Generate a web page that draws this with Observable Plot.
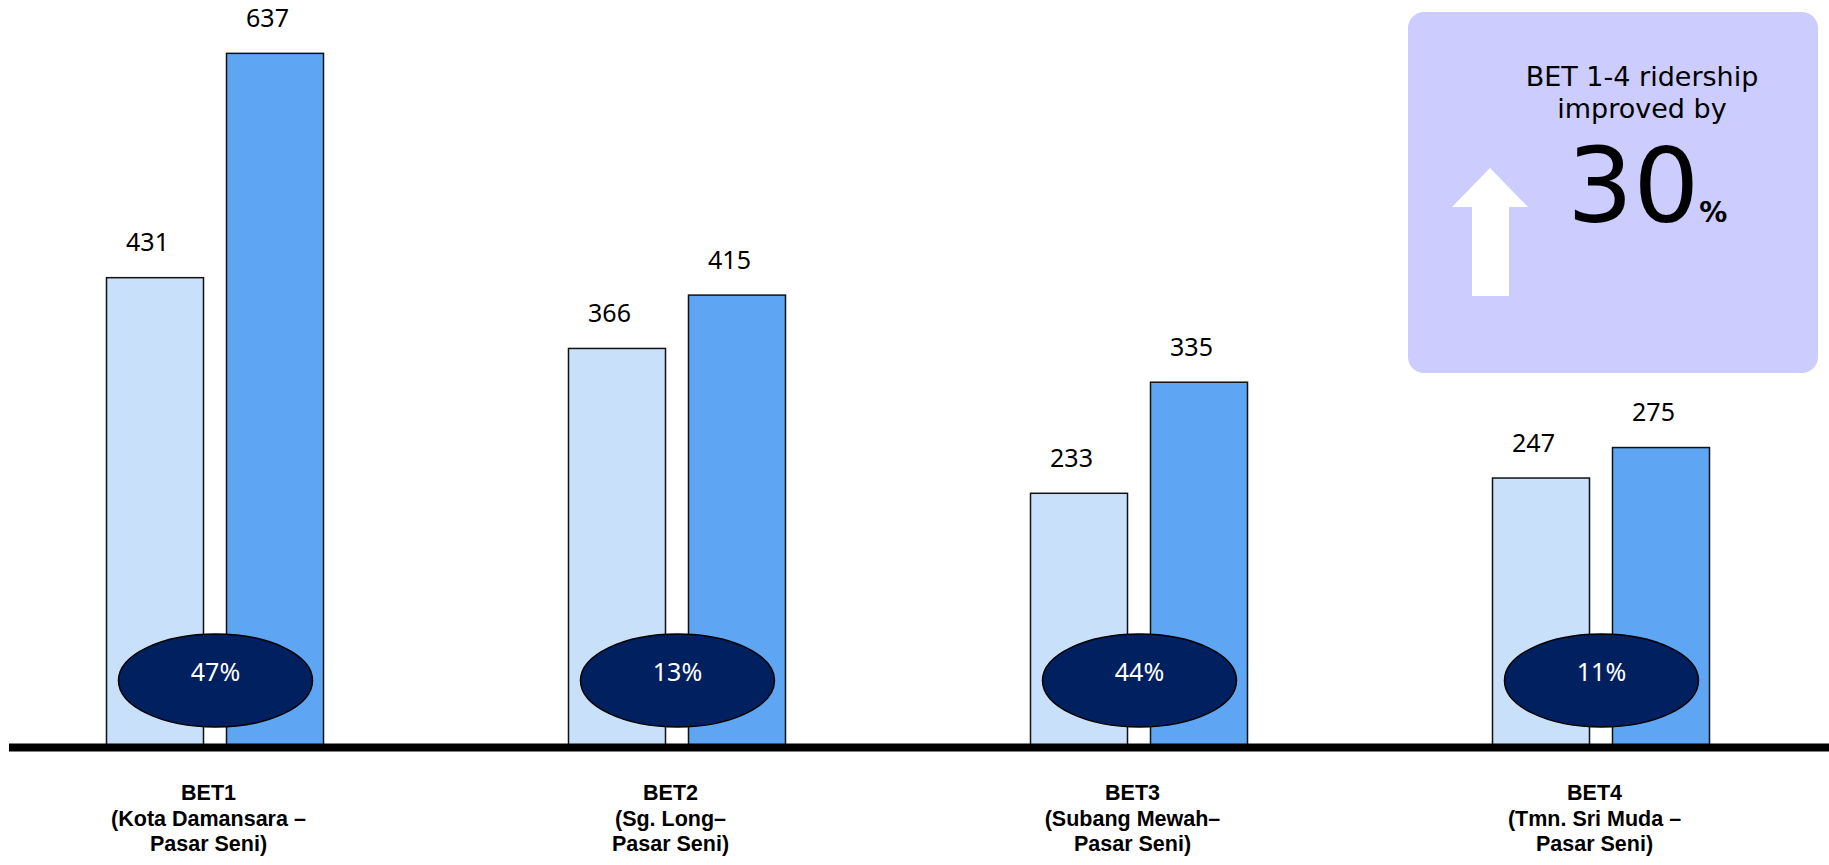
<!DOCTYPE html>
<html>
<head>
<meta charset="utf-8">
<script src="https://cdn.jsdelivr.net/npm/d3@7"></script>
<script src="https://cdn.jsdelivr.net/npm/@observablehq/plot@0.6"></script>
<style>
  html, body { margin: 0; padding: 0; background: #fff; }
  #wrap { position: relative; width: 1829px; height: 865px; overflow: hidden; }
  #chart svg { display: block; }
  #box { position: absolute; left: 1408px; top: 12px; width: 410px; height: 361px;
         background: #CCCCFF; border-radius: 16px; }
  #box .head { position: absolute; left: 84px; top: 49px; width: 300px; text-align: center;
               font-family: "DejaVu Sans", sans-serif; font-size: 27px; line-height: 32px; color: #000; }
  #box .num { position: absolute; left: 159px; top: 122px; white-space: nowrap;
              font-family: "DejaVu Sans", sans-serif; line-height: 104px; color: #000; }
  #box .num .big { font-size: 104px; }
  #box .num .pct { font-size: 28px; font-weight: bold; }
  #box .tri { position: absolute; left: 44px; top: 156px; width: 0; height: 0;
              border-left: 38px solid transparent; border-right: 38px solid transparent;
              border-bottom: 39px solid #fff; }
  #box .shaft { position: absolute; left: 64px; top: 195px; width: 37px; height: 89px; background: #fff; }
</style>
</head>
<body>
<div id="wrap">
  <div id="chart"></div>
  <div id="box">
    <div class="head">BET 1-4 ridership<br>improved by</div>
    <div class="num"><span class="big">30</span><span class="pct">%</span></div>
    <div class="tri"></div>
    <div class="shaft"></div>
  </div>
</div>
<script>
// ---- data ----
const groups = ["BET1", "BET2", "BET3", "BET4"];
const groupLabels = [
  "BET1\n(Kota Damansara –\nPasar Seni)",
  "BET2\n(Sg. Long–\nPasar Seni)",
  "BET3\n(Subang Mewah–\nPasar Seni)",
  "BET4\n(Tmn. Sri Muda –\nPasar Seni)"
];
const before = [431, 366, 233, 247];
const after = [637, 415, 335, 275];
const growth = ["47%", "13%", "44%", "11%"];

const rows = groups.map((g, i) => ({
  group: g, label: groupLabels[i], before: before[i], after: after[i], growth: growth[i]
}));

// ellipse symbol (wide oval)
const ellipse = {
  draw(context, size) {
    const rx = Math.sqrt(size / Math.PI), ry = rx * 0.48, k = 0.5523;
    context.moveTo(rx, 0);
    context.bezierCurveTo(rx, ry * k, rx * k, ry, 0, ry);
    context.bezierCurveTo(-rx * k, ry, -rx, ry * k, -rx, 0);
    context.bezierCurveTo(-rx, -ry * k, -rx * k, -ry, 0, -ry);
    context.bezierCurveTo(rx * k, -ry, rx, -ry * k, rx, 0);
    context.closePath();
  }
};

const valueFont = "Noto Sans, Open Sans, sans-serif";

const chart = Plot.plot({
  width: 1829,
  height: 865,
  marginTop: 0,
  marginBottom: 118,
  marginLeft: 9,
  marginRight: 0,
  style: { background: "white", overflow: "visible" },
  x: { domain: groups, range: [-17, 1833], padding: 0, axis: null },
  y: { domain: [0, 686], axis: null },
  marks: [
    Plot.barY(rows, { x: "group", y: "before", fill: "#C8E0FA", stroke: "#111", strokeWidth: 1.5,
                      insetLeft: 122.5, insetRight: 242.5 }),
    Plot.barY(rows, { x: "group", y: "after", fill: "#5EA5F3", stroke: "#111", strokeWidth: 1.5,
                      insetLeft: 242.5, insetRight: 122.5 }),
    Plot.ruleY([0], { stroke: "black", strokeWidth: 8 }),
    Plot.text(rows, { x: "group", y: "before", text: d => String(d.before), dx: -68, dy: -27,
                      lineAnchor: "bottom", fontSize: 25, fontFamily: valueFont, fill: "black" }),
    Plot.text(rows, { x: "group", y: "after", text: d => String(d.after), dx: 52, dy: -27,
                      lineAnchor: "bottom", fontSize: 25, fontFamily: valueFont, fill: "black" }),
    Plot.dot(rows, { x: "group", frameAnchor: "bottom", dy: -67, r: 97, symbol: ellipse,
                     fill: "#002060", stroke: "black", strokeWidth: 1.5 }),
    Plot.text(rows, { x: "group", text: "growth", frameAnchor: "bottom", dy: -67,
                      fontSize: 25, fontFamily: valueFont, fill: "white" }),
    Plot.text(rows, { x: "group", text: "label", frameAnchor: "bottom", lineAnchor: "top", dy: 35, dx: -7,
                      fontSize: 21.5, fontWeight: "bold", fontFamily: "Liberation Sans, Arial, sans-serif",
                      lineHeight: 1.17, fill: "black" })
  ]
});
document.getElementById("chart").appendChild(chart);
</script>
</body>
</html>
